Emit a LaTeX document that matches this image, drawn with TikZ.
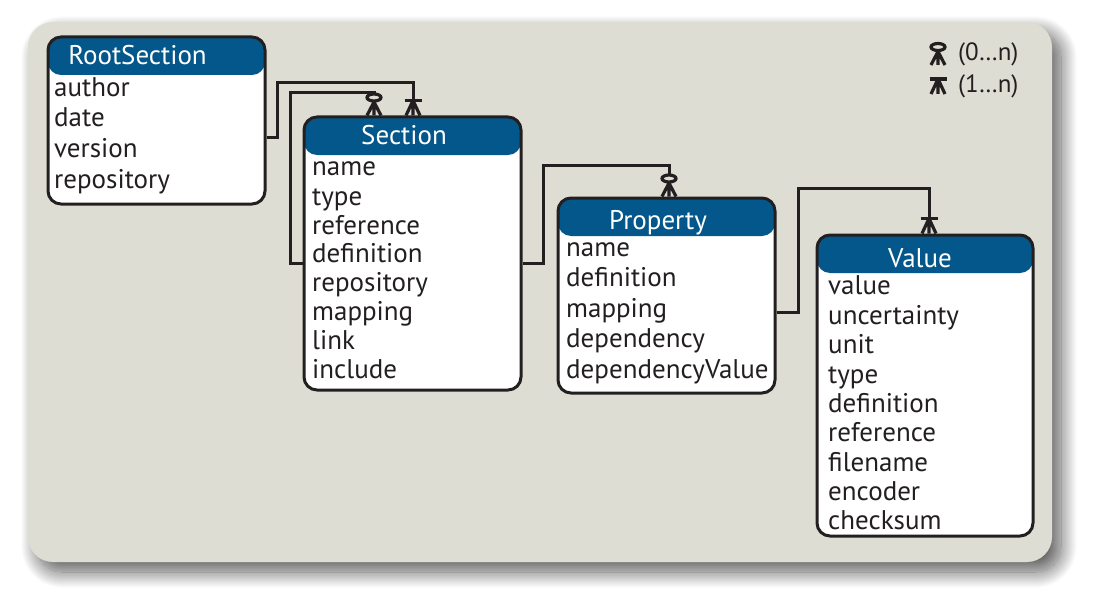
\documentclass[tikz,border=0pt]{standalone}
\usepackage{fontspec}
\setmainfont{PT Sans}
\usetikzlibrary{shadows.blur,calc}
\definecolor{bgc}{HTML}{DEDDD3}
\definecolor{hdr}{HTML}{04578B}
\definecolor{ink}{HTML}{231F20}
\tikzset{
  entity/.style={draw=ink, line width=3pt, fill=white, rounded corners=13pt, inner sep=0pt,
    path picture={\fill[hdr] ([yshift=4pt]path picture bounding box.north west) rectangle ([yshift=-38pt]path picture bounding box.north east);}},
  fld/.style={anchor=mid west, inner sep=0pt, font=\fontsize{27}{27}\selectfont, text=ink},
  ttl/.style={anchor=mid, inner sep=0pt, font=\fontsize{27}{27}\selectfont, text=white},
  lgd/.style={anchor=mid west, inner sep=0pt, font=\fontsize{25}{25}\selectfont, text=ink},
  conn/.style={draw=ink, line width=3pt},
  symb/.style={draw=ink, line width=3.2pt},
  zeromany/.pic={\draw[symb] (0,-13.5) -- (-7,0) (0,-13.5) -- (0,0) (0,-13.5) -- (7,0);
                 \draw[symb] (0,-18) ellipse [x radius=7, y radius=3.5];},
  onemany/.pic={\draw[symb] (-8.5,-15) -- (8.5,-15);
                \draw[symb] (0,-15) -- (-7,0) (0,-15) -- (0,0) (0,-15) -- (7,0);}
}
\begin{document}
\begin{tikzpicture}[x=1pt,y=-1pt]
\useasboundingbox (0,0) rectangle (1100,615);
\fill[bgc, rounded corners=25pt, blur shadow={shadow xshift=9pt, shadow yshift=-10pt, shadow blur radius=16pt, shadow blur steps=24, shadow opacity=65}] (28,22) rectangle (1052,562);

% entities
\node[entity, minimum width=217pt, minimum height=167pt] (root) at (156.5,120.5) {};
\node[entity, minimum width=217pt, minimum height=273pt] (sec) at (412.5,253.5) {};
\node[entity, minimum width=217pt, minimum height=195pt] (prop) at (666.5,295.5) {};
\node[entity, minimum width=216pt, minimum height=301pt] (val) at (925,385.5) {};

% titles
\node[ttl] (rootT) at (137.5,62) {RootSection};
\node[ttl] (secT) at (404,142) {Section};
\node[ttl] (propT) at (658,227) {Property};
\node[ttl] (valT) at (920,265) {Value};

% RootSection fields
\node[fld] (r1) at (54,94) {author};
\node[fld] (r2) at (54,124) {date};
\node[fld] (r3) at (54,155) {version};
\node[fld] (r4) at (54,186) {repository};

% Section fields
\node[fld] (s1) at (312,173) {name};
\node[fld] (s2) at (312,203) {type};
\node[fld] (s3) at (312,232) {reference};
\node[fld] (s4) at (312,260) {definition};
\node[fld] (s5) at (312,289) {repository};
\node[fld] (s6) at (312,318) {mapping};
\node[fld] (s7) at (312,347) {link};
\node[fld] (s8) at (312,376) {include};

% Property fields
\node[fld] (p1) at (566,254) {name};
\node[fld] (p2) at (566,284) {definition};
\node[fld] (p3) at (566,315) {mapping};
\node[fld] (p4) at (566,345) {dependency};
\node[fld] (p5) at (566,376) {dependencyValue};

% Value fields
\node[fld] (v1) at (828,292) {value};
\node[fld] (v2) at (828,322) {uncertainty};
\node[fld] (v3) at (828,351) {unit};
\node[fld] (v4) at (828,381) {type};
\node[fld] (v5) at (828,410) {definition};
\node[fld] (v6) at (828,439) {reference};
\node[fld] (v7) at (828,469) {filename};
\node[fld] (v8) at (828,498) {encoder};
\node[fld] (v9) at (828,527) {checksum};

% connector helper coordinates
\coordinate (y138) at (0,138);
\coordinate (y263) at (0,263);
\coordinate (y312) at (0,312);
\coordinate (k1) at (277,83);  \coordinate (k1e) at (413,83);
\coordinate (k2) at (290,93);  \coordinate (k2e) at (374,93);
\coordinate (k3) at (543,165); \coordinate (k3e) at (669,165);
\coordinate (k4) at (798,188); \coordinate (k4e) at (929,188);

% RootSection -> Section (1..n)
\draw[conn] (root.east |- y138) -| (k1) -- (k1e) -- ($(k1e |- sec.north)+(0,-15)$);
\pic at (k1e |- sec.north) {onemany};
% Section -> Section (0..n)
\draw[conn] (sec.west |- y263) -| (k2) -- (k2e) -- ($(k2e |- sec.north)+(0,-21.5)$);
\pic at (k2e |- sec.north) {zeromany};
% Section -> Property (0..n)
\draw[conn] (sec.east |- y263) -| (k3) -- (k3e) -- ($(k3e |- prop.north)+(0,-21.5)$);
\pic at (k3e |- prop.north) {zeromany};
% Property -> Value (1..n)
\draw[conn] (prop.east |- y312) -| (k4) -- (k4e) -- ($(k4e |- val.north)+(0,-15)$);
\pic at (k4e |- val.north) {onemany};

% legend
\coordinate (lg1) at (938,65);
\coordinate (lg2) at (938,94);
\pic at (lg1) {zeromany};
\pic at (lg2) {onemany};
\node[lgd] (lt1) at (958,58) {(0…n)};
\node[lgd] (lt2) at (958,90) {(1…n)};
\end{tikzpicture}
\end{document}
